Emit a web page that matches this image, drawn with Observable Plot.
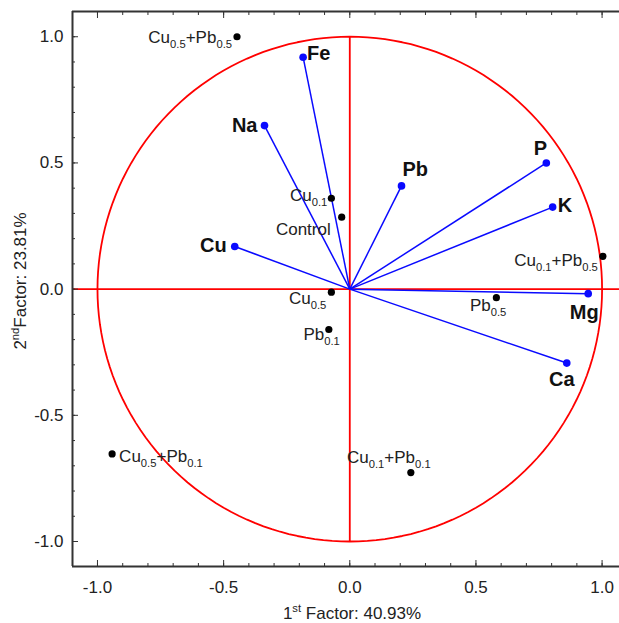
<!DOCTYPE html>
<html><head><meta charset="utf-8">
<script src="https://cdn.jsdelivr.net/npm/d3@7"></script>
<script src="https://cdn.jsdelivr.net/npm/@observablehq/plot@0.6"></script>
<style>body{margin:0;background:#fff;} #chart svg{display:block;}</style>
</head><body><div id="chart"></div>
<script>
// ---- data ----
const variables = ["Fe", "Na", "Cu", "Pb", "P", "K", "Mg", "Ca"];
const varX = [-0.185, -0.338, -0.456, 0.205, 0.779, 0.804, 0.945, 0.860];
const varY = [0.919, 0.648, 0.169, 0.409, 0.500, 0.325, -0.018, -0.293];

const treatments = ["Cu_{0.5}+Pb_{0.5}", "Cu_{0.1}", "Control", "Cu_{0.1}+Pb_{0.5}", "Cu_{0.5}", "Pb_{0.5}", "Pb_{0.1}", "Cu_{0.5}+Pb_{0.1}", "Cu_{0.1}+Pb_{0.1}"];
const treatX = [-0.447, -0.073, -0.032, 1.003, -0.073, 0.581, -0.083, -0.942, 0.242];
const treatY = [1.000, 0.360, 0.285, 0.130, -0.012, -0.034, -0.160, -0.653, -0.727];

const xTicks = [-1.0, -0.5, 0.0, 0.5, 1.0];
const yTicks = [-1.0, -0.5, 0.0, 0.5, 1.0];
const minorTicks = [-1.0, -0.9, -0.8, -0.7, -0.6, -0.5, -0.4, -0.3, -0.2, -0.1, 0.0, 0.1, 0.2, 0.3, 0.4, 0.5, 0.6, 0.7, 0.8, 0.9, 1.0];
const xLabel = "1^{st} Factor: 40.93%";
const yLabel = "2^{nd}Factor: 23.81%";

// ---- label placement (style) ----
const varAnchor = ["start", "end", "end", "start", "middle", "start", "middle", "middle"];
const varDx = [4, -7, -8, 1, -6, 5, -4, -5];
const varDy = [-4, 0, -1, -16, -14, -2, 19, 17];
const trAnchor = ["end", "end", "end", "end", "end", "end", "end", "start", "middle"];
const trDx = [-5, -4, -11, -5, -5, 10, 11, 7, -22];
const trDy = [1, -3, 12, 4, 6, 8, 5, 3, -15];

const vars = variables.map((name, i) => ({name, x: varX[i], y: varY[i], anchor: varAnchor[i], dx: varDx[i], dy: varDy[i]}));
const trs = treatments.map((name, i) => ({name, x: treatX[i], y: treatY[i], anchor: trAnchor[i], dx: trDx[i], dy: trDy[i]}));
const circle = d3.range(0, 361, 2).map(a => ({x: Math.cos(a * Math.PI / 180), y: Math.sin(a * Math.PI / 180)}));

const xDomain = [-1.099, 1.069];
const yDomain = [-1.099, 1.100];
const RED = "#ff0000", BLUE = "#0a0aff", AX = "#333333";
const fmt = d => d.toFixed(1);

function labelMarks(data, opts) {
  return data.map(d => Plot.text([d], {x: "x", y: "y", text: "name", textAnchor: d.anchor, lineAnchor: "middle", dx: d.dx, dy: d.dy, ...opts}));
}

const plot = Plot.plot({
  width: 619, height: 623,
  marginLeft: 72, marginRight: 0, marginTop: 11, marginBottom: 57,
  x: {domain: xDomain, axis: null},
  y: {domain: yDomain, axis: null},
  style: {fontFamily: "'Liberation Sans', Arial, sans-serif", color: "#222", background: "#fff"},
  marks: [
    // reference circle and axes
    Plot.line(circle, {x: "x", y: "y", stroke: RED, strokeWidth: 1.8}),
    Plot.ruleY([0], {stroke: RED, strokeWidth: 1.8}),
    Plot.ruleX([0], {y1: -1, y2: 1, stroke: RED, strokeWidth: 1.8}),
    // loading vectors
    Plot.link(vars, {x1: 0, y1: 0, x2: "x", y2: "y", stroke: BLUE, strokeWidth: 1.5}),
    Plot.dot(vars, {x: "x", y: "y", r: 3.8, fill: BLUE}),
    Plot.dot(trs, {x: "x", y: "y", r: 3.6, fill: "#000"}),
    ...labelMarks(vars, {fontSize: 20, fontWeight: "bold", fill: "#111"}),
    ...labelMarks(trs, {fontSize: 17, fill: "#222"}),
    // frame
    Plot.ruleX([xDomain[0]], {stroke: AX, strokeWidth: 2}),
    Plot.ruleY([yDomain[0], yDomain[1]], {stroke: AX, strokeWidth: 2}),
    // ticks
    Plot.axisX(minorTicks, {anchor: "bottom", tickSize: -3, tickFormat: () => "", label: null, stroke: AX}),
    Plot.axisX(minorTicks, {anchor: "top", tickSize: -3, tickFormat: () => "", label: null, stroke: AX}),
    Plot.axisY(minorTicks, {anchor: "left", tickSize: -3, tickFormat: () => "", label: null, stroke: AX}),
    Plot.axisX(xTicks, {anchor: "top", tickSize: -6, tickFormat: () => "", label: null, stroke: AX}),
    Plot.axisX(xTicks, {anchor: "bottom", tickSize: -6, tickPadding: 20, tickFormat: fmt, label: null, stroke: AX, fontSize: 17, fill: "#222"}),
    Plot.axisY(yTicks, {anchor: "left", tickSize: -6, tickPadding: 15, tickFormat: fmt, label: null, stroke: AX, fontSize: 17, fill: "#222"}),
    // axis titles
    Plot.text([xLabel], {frameAnchor: "bottom", textAnchor: "middle", lineAnchor: "middle", dx: 6, dy: 47, fontSize: 17, fill: "#222"}),
    Plot.text([yLabel], {frameAnchor: "left", textAnchor: "middle", lineAnchor: "middle", dx: -52, dy: -8, rotate: -90, fontSize: 17, fill: "#222"})
  ]
});

// turn _{..} and ^{..} into sub/superscript tspans
function richText(el) {
  const s = el.textContent;
  if (!/[_^]\{/.test(s)) return;
  const host = el.closest("[font-size]");
  const base = host ? parseFloat(host.getAttribute("font-size")) : 16;
  const small = base * 0.66;
  const subShift = base * 0.3, supShift = base * 0.42;
  el.textContent = "";
  const re = /([_^])\{([^}]*)\}/g;
  let last = 0, m, pending = 0;
  const NS = "http://www.w3.org/2000/svg";
  const add = (txt, size, dy) => {
    const t = document.createElementNS(NS, "tspan");
    if (size) t.setAttribute("font-size", size);
    if (dy) t.setAttribute("dy", dy);
    t.textContent = txt;
    el.appendChild(t);
  };
  while ((m = re.exec(s))) {
    if (m.index > last) { add(s.slice(last, m.index), null, pending); pending = 0; }
    const shift = m[1] === "_" ? subShift : -supShift;
    add(m[2], small, pending + shift);
    pending = -shift;
    last = re.lastIndex;
  }
  if (last < s.length) add(s.slice(last), null, pending);
}
plot.querySelectorAll("text").forEach(richText);
document.getElementById("chart").appendChild(plot);
</script>
</body></html>
